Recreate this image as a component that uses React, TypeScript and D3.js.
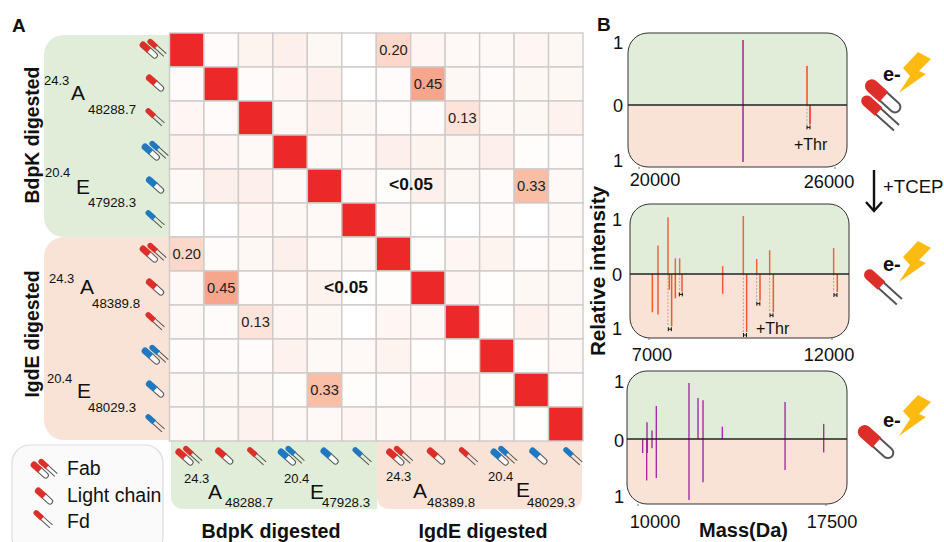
import { useEffect, useRef } from "react";
import * as d3 from "d3";

const FONT = "'Liberation Sans', Arial, sans-serif";

// similarity matrix
const similarity = [
  [1, 0.01, 0.03, 0.04, 0.02, 0, 0.2, 0.025, 0.015, 0.015, 0.025, 0.02],
  [0.01, 1, 0.01, 0.025, 0.04, 0, 0.01, 0.45, 0.02, 0.01, 0.02, 0.02],
  [0.025, 0.01, 1, 0.015, 0.04, 0.02, 0.01, 0.01, 0.13, 0.015, 0.02, 0.035],
  [0.035, 0.025, 0.015, 1, 0.015, 0.015, 0.04, 0.03, 0.02, 0.04, 0.005, 0.01],
  [0.015, 0.04, 0.04, 0.015, 1, 0.015, 0.005, 0.04, 0.02, 0.01, 0.33, 0.015],
  [0, 0, 0.025, 0.02, 0.015, 1, 0.015, 0, 0, 0.01, 0, 0.015],
  [0.2, 0.01, 0.02, 0.045, 0.015, 0.015, 1, 0.005, 0.025, 0.03, 0.01, 0.015],
  [0.015, 0.45, 0.01, 0.015, 0.035, 0, 0.005, 1, 0.025, 0.003, 0.02, 0.02],
  [0.015, 0.01, 0.13, 0.025, 0.02, 0, 0.025, 0.015, 1, 0.003, 0.035, 0.02],
  [0.01, 0.01, 0.01, 0.035, 0.015, 0.015, 0.03, 0.003, 0.003, 1, 0.003, 0.015],
  [0.02, 0.02, 0.02, 0.005, 0.33, 0.005, 0.01, 0.025, 0.035, 0.003, 1, 0.003],
  [0.015, 0.02, 0.035, 0.015, 0.015, 0.025, 0.015, 0.015, 0.015, 0.015, 0.003, 1],
];
const printedValues = [0.2, 0.45, 0.13, 0.33];
const chainKinds = ["fab", "lc", "fd", "fab", "lc", "fd"];

// spectra: [mass, intensity]
const s1Top = [[23184, 1], [25143, 0.6]];
const s1Bottom = [[23184, 1], [25235, 0.34]];
const s1Shifted = [[25143, 25235, 0.34]];
const s1Intact = 23184;

const s2Top = [[7246, 0.49], [7519, 0.98], [7719, 0.27], [7838, 0.27], [9013, 0.14], [9577, 1], [9942, 0.26], [10297, 0.41], [12045, 0.45]];
const s2Bottom = [[7091, 0.66], [7246, 0.7], [7555, 0.27], [7619, 0.9], [7719, 0.42], [7902, 0.3], [9013, 0.34], [9668, 1], [10033, 0.46], [10397, 0.66], [12145, 0.31]];
const s2Shifted = [[7519, 7619, 0.9], [7838, 7902, 0.3], [9577, 9668, 1], [9942, 10033, 0.46], [10297, 10397, 0.66], [12045, 12145, 0.31]];

const s3Top = [[10359, 0.3], [10559, 0.15], [10731, 0.59], [12035, 1], [12394, 0.73], [12594, 0.69], [13365, 0.22], [15867, 0.66], [17408, 0.27]];
const s3Bottom = [[10186, 0.23], [10346, 0.68], [10372, 0.23], [10559, 0.15], [10731, 0.64], [12035, 1], [12594, 0.71], [15867, 0.51], [17408, 0.22]];

const GREEN = "#e0edd8";
const PEACH = "#f8e3d6";
const RED = "#dc2f2a";
const BLUE = "#1f78c0";
const LINE = "#555";

/** 抗体小图标 */
function glyph(parent: any, kind: string, color: string, cx: number, cy: number, k = 1, flip = false) {
  const g = parent
    .append("g")
    .attr("transform", `translate(${cx},${cy}) rotate(42) scale(${k})`);
  const capsule = (dx: number, dy: number) => {
    const c = g.append("g").attr("transform", `translate(${dx},${dy})`);
    c.append("path")
      .attr("d", "M0,-2.7 H8 A2.7,2.7 0 0 1 8,2.7 H0")
      .attr("fill", "#fff")
      .attr("fill-opacity", 0.75)
      .attr("stroke", LINE)
      .attr("stroke-width", 1);
    c.append("path")
      .attr("d", "M0.5,-3.4 H-7.6 A3.4,3.4 0 0 0 -7.6,3.4 H0.5 Z")
      .attr("fill", color);
  };
  const thin = (dx: number, dy: number) => {
    const c = g.append("g").attr("transform", `translate(${dx},${dy})`);
    c.append("path")
      .attr("d", "M-1,-1.9 H12 M-1,1.9 H12")
      .attr("stroke", LINE)
      .attr("stroke-width", 1);
    c.append("path")
      .attr("d", "M0,-2.8 H-8 A2.8,2.8 0 0 0 -8,2.8 H0 Z")
      .attr("fill", color);
  };
  if (kind === "lc") capsule(0, 0);
  if (kind === "fd") thin(-1, 0);
  if (kind === "fab") {
    const s = flip ? -1 : 1;
    capsule(-2.5, 3.6 * s);
    thin(1, -3.6 * s);
  }
}

function label(parent: any, x: number, y: number, str: string, size: number, bold = false, anchor = "start") {
  return parent
    .append("text")
    .attr("x", x)
    .attr("y", y)
    .attr("font-size", size)
    .attr("font-weight", bold ? "bold" : "normal")
    .attr("text-anchor", anchor)
    .attr("fill", "#111")
    .text(str);
}

/** 24.3 A 48288.7 这种标签 */
function antibodyLabel(parent: any, t: string, tx: number, ty: number, name: string, nx: number, ny: number, m: string, mx: number, my: number) {
  label(parent, tx, ty, t, 13);
  label(parent, nx, ny, name, 21);
  label(parent, mx, my, m, 13.3);
}

/** 闪电 */
function bolt(parent: any, cx: number, cy: number, textDy: number) {
  const pts = [[3, -20], [16, -13], [4, -1], [11, 2], [-16, 21], [-5, 4], [-12, -4]];
  parent
    .append("polygon")
    .attr("points", pts.map((p) => [p[0] + cx, p[1] + cy].join(",")).join(" "))
    .attr("fill", "#fdbb12");
  label(parent, cx - 32, cy + textDy, "e-", 20, true);
}

function spectrum(svg: any, id: string, o: any) {
  const { left, right, top, bottom, zero, up, down, xDomain, xRange, xTicks, tickDx, tickY, yLabelX, yLabelY } = o;
  const x = d3.scaleLinear().domain(xDomain).range(xRange);
  const y = d3.scaleLinear().domain([-1, 0, 1]).range([down, zero, up]);

  svg.append("clipPath").attr("id", id)
    .append("rect")
    .attr("x", left).attr("y", top)
    .attr("width", right - left).attr("height", bottom - top)
    .attr("rx", 20);
  const bg = svg.append("g").attr("clip-path", `url(#${id})`);
  bg.append("rect").attr("x", left).attr("y", top).attr("width", right - left).attr("height", zero - top).attr("fill", GREEN);
  bg.append("rect").attr("x", left).attr("y", zero).attr("width", right - left).attr("height", bottom - zero).attr("fill", PEACH);

  // dashed partner lines for the +Thr pairs
  svg.selectAll(null).data(o.shifted || []).join("line")
    .attr("x1", (d: number[]) => x(d[0])).attr("x2", (d: number[]) => x(d[0]))
    .attr("y1", zero).attr("y2", (d: number[]) => y(-d[2]))
    .attr("stroke", "#aaa").attr("stroke-width", 1).attr("stroke-dasharray", "2,1.5");

  svg.selectAll(null).data(o.topPeaks).join("line")
    .attr("x1", (d: number[]) => x(d[0])).attr("x2", (d: number[]) => x(d[0]))
    .attr("y1", zero).attr("y2", (d: number[]) => y(d[1]))
    .attr("stroke", o.topColor).attr("stroke-width", o.barWidth);
  svg.selectAll(null).data(o.bottomPeaks).join("line")
    .attr("x1", (d: number[]) => x(d[0])).attr("x2", (d: number[]) => x(d[0]))
    .attr("y1", zero).attr("y2", (d: number[]) => y(-d[1]))
    .attr("stroke", o.bottomColor).attr("stroke-width", o.barWidth);

  // little H bracket under each pair
  svg.selectAll(null).data(o.shifted || []).join("path")
    .attr("d", (d: number[]) => {
      const mx = (x(d[0]) + x(d[1])) / 2;
      const my = y(-d[2]) + 3;
      return `M${mx - 1.5},${my - 2} V${my + 2} M${mx + 1.5},${my - 2} V${my + 2} M${mx - 1.5},${my} H${mx + 1.5}`;
    })
    .attr("stroke", "#111").attr("stroke-width", 1).attr("fill", "none");

  svg.append("rect")
    .attr("x", left).attr("y", top)
    .attr("width", right - left).attr("height", bottom - top)
    .attr("rx", 20).attr("fill", "none").attr("stroke", "#333").attr("stroke-width", 1);
  svg.append("line").attr("x1", left).attr("x2", right).attr("y1", zero).attr("y2", zero)
    .attr("stroke", "#222").attr("stroke-width", 1.3);

  xTicks.forEach((t: number, i: number) => {
    svg.append("line").attr("x1", x(t)).attr("x2", x(t)).attr("y1", bottom).attr("y2", bottom + 2)
      .attr("stroke", "#777").attr("stroke-width", 1);
    label(svg, x(t) + tickDx[i], tickY[i], String(t), 18.2, false, "middle");
  });
  ["1", "0", "1"].forEach((t, i) => label(svg, yLabelX, yLabelY[i], t, 18.2, false, "middle"));
}

const App = () => {
  const ref = useRef<SVGSVGElement>(null);

  useEffect(() => {
    const svg = d3.select(ref.current);
    svg.selectAll("*").remove();
    svg.style("font-family", FONT);

    const ids = d3.range(12);
    const xBand = d3.scaleBand<number>().domain(ids).range([169.5, 583]);
    const yBand = d3.scaleBand<number>().domain(ids).range([33, 441]);
    const color = d3
      .scaleLinear<string>()
      .domain([0, 0.04, 0.13, 0.2, 0.33, 0.45, 1])
      .range(["#ffffff", "#fdf0ea", "#fde3d9", "#fdd8ca", "#fabda6", "#f7a58d", "#ec2828"]);

    /** 左侧和底部的背景 */
    svg.append("path")
      .attr("d", "M169,35 H64 A20,20 0 0 0 44,55 V217 A20,20 0 0 0 64,237 H169 Z")
      .attr("fill", GREEN);
    svg.append("path")
      .attr("d", "M169,237 H64 A20,20 0 0 0 44,257 V420 A20,20 0 0 0 64,440 H169 Z")
      .attr("fill", PEACH);
    svg.append("path")
      .attr("d", "M171,441 H377 V509 H183 A12,12 0 0 1 171,497 Z")
      .attr("fill", GREEN);
    svg.append("path")
      .attr("d", "M377,441 H582 V497 A12,12 0 0 1 570,509 H389 A12,12 0 0 1 377,497 Z")
      .attr("fill", PEACH);

    /** 热图 */
    const cells = similarity.flatMap((row, r) => row.map((v, c) => ({ r, c, v })));
    svg.append("g")
      .selectAll("rect")
      .data(cells)
      .join("rect")
      .attr("x", (d) => xBand(d.c)!)
      .attr("y", (d) => yBand(d.r)!)
      .attr("width", xBand.bandwidth())
      .attr("height", yBand.bandwidth())
      .attr("fill", (d) => color(d.v))
      .attr("stroke", "#cfcbc9")
      .attr("stroke-width", 1.4);
    svg.append("g")
      .selectAll("text")
      .data(cells.filter((d) => printedValues.includes(d.v)))
      .join("text")
      .attr("x", (d) => xBand(d.c)! + xBand.bandwidth() / 2)
      .attr("y", (d) => yBand(d.r)! + yBand.bandwidth() / 2 + 5)
      .attr("text-anchor", "middle")
      .attr("font-size", 14.7)
      .attr("fill", "#222")
      .text((d) => d.v.toFixed(2));
    label(svg, 411, 190, "<0.05", 17.4, true, "middle");
    label(svg, 346, 293, "<0.05", 17.4, true, "middle");

    /** 行和列的图标 */
    const rowDx = [-17, -15, -15, -15, -15, -15, -17, -15, -15, -15, -15, -15];
    const colDx = [2, 3, 1, 1, 5, 3, 6, 8, 6, 7, 7, 7];
    ids.forEach((i) => {
      const kind = chainKinds[i % 6];
      const col = i % 6 < 3 ? RED : BLUE;
      glyph(svg, kind, col, 170 + rowDx[i], yBand(i)! + yBand.bandwidth() / 2 - 1);
      glyph(svg, kind, col, xBand(i)! + xBand.bandwidth() / 2 + colDx[i], 456);
    });

    /** 左侧标签 */
    antibodyLabel(svg, "24.3", 44, 85, "A", 71, 100, "48288.7", 88, 114);
    antibodyLabel(svg, "20.4", 45, 177, "E", 76, 194, "47928.3", 88, 207);
    antibodyLabel(svg, "24.3", 49, 283, "A", 80, 294, "48389.8", 92, 308);
    antibodyLabel(svg, "20.4", 47, 383, "E", 77, 398, "48029.3", 88, 412);
    antibodyLabel(svg, "24.3", 184, 483, "A", 208, 499, "48288.7", 225, 507);
    antibodyLabel(svg, "20.4", 284, 483, "E", 310, 499, "47928.3", 322, 507);
    antibodyLabel(svg, "24.3", 386, 481, "A", 413, 498, "48389.8", 427, 507);
    antibodyLabel(svg, "20.4", 488, 481, "E", 516, 497, "48029.3", 527, 507);

    label(svg, 0, 0, "BdpK digested", 19.4, true, "middle").attr("transform", "translate(38.5,135) rotate(-90)");
    label(svg, 0, 0, "IgdE digested", 19.4, true, "middle").attr("transform", "translate(38.5,334) rotate(-90)");
    label(svg, 271, 538, "BdpK digested", 19.7, true, "middle");
    label(svg, 483, 538, "IgdE digested", 19.7, true, "middle");
    label(svg, 12, 32, "A", 19, true);
    label(svg, 597, 31, "B", 19, true);

    /** 图例 */
    svg.append("rect")
      .attr("x", 12).attr("y", 445).attr("width", 151).attr("height", 110).attr("rx", 18)
      .attr("fill", "#fafafa").attr("stroke", "#ddd").attr("stroke-width", 1.2);
    glyph(svg, "fab", RED, 44, 469);
    glyph(svg, "lc", RED, 44, 496);
    glyph(svg, "fd", RED, 43, 519);
    label(svg, 67, 475, "Fab", 19.5);
    label(svg, 67, 502, "Light chain", 19.5);
    label(svg, 67, 528, "Fd", 19.5);

    /** 右侧质谱 */
    spectrum(svg, "s1", {
      left: 628, right: 847, top: 33, bottom: 167, zero: 105, up: 40, down: 162,
      xDomain: [20000, 26000], xRange: [639, 835], xTicks: [20000, 26000], tickDx: [16, -6], tickY: [186, 188],
      yLabelX: 618, yLabelY: [49, 112, 167],
      topPeaks: s1Top, bottomPeaks: s1Bottom, shifted: s1Shifted,
      topColor: (d: number[]) => (d[0] === s1Intact ? "#a9479f" : "#ea6a3a"),
      bottomColor: (d: number[]) => (d[0] === s1Intact ? "#a9479f" : "#f04545"),
      barWidth: 1.8,
    });
    spectrum(svg, "s2", {
      left: 630, right: 849, top: 204, bottom: 338, zero: 274, up: 216, down: 332,
      xDomain: [7000, 12000], xRange: [649, 832], xTicks: [7000, 12000], tickDx: [3, -3], tickY: [361, 361],
      yLabelX: 617, yLabelY: [226, 281, 335],
      topPeaks: s2Top, bottomPeaks: s2Bottom, shifted: s2Shifted,
      topColor: "#f0663c", bottomColor: "#f0582f", barWidth: 1.5,
    });
    spectrum(svg, "s3", {
      left: 627, right: 847, top: 371, bottom: 504, zero: 439, up: 383, down: 500,
      xDomain: [10000, 17500], xRange: [638, 826], xTicks: [10000, 17500], tickDx: [17, 6], tickY: [528, 528],
      yLabelX: 619, yLabelY: [388, 447, 503],
      topPeaks: s3Top, bottomPeaks: s3Bottom,
      topColor: "#a22ea2", bottomColor: "#a22ea2", barWidth: 1.4,
    });
    label(svg, 794, 150, "+Thr", 16);
    label(svg, 756, 334, "+Thr", 16);
    label(svg, 0, 0, "Relative intensity", 20.7, true, "middle").attr("transform", "translate(605,271) rotate(-90)");
    label(svg, 699, 537, "Mass(Da)", 20, true);

    /** TCEP 箭头 */
    svg.append("line").attr("x1", 874).attr("x2", 874).attr("y1", 170).attr("y2", 209)
      .attr("stroke", "#111").attr("stroke-width", 2.4);
    svg.append("path").attr("d", "M866,202 L874,211 L882,202")
      .attr("fill", "none").attr("stroke", "#111").attr("stroke-width", 2.4);
    label(svg, 883, 193, "+TCEP", 18.6);

    glyph(svg, "fab", RED, 882, 105, 2, true);
    glyph(svg, "fd", RED, 883, 287, 2);
    glyph(svg, "lc", RED, 876, 442, 2);
    bolt(svg, 915, 72, 9);
    bolt(svg, 915, 261, 10);
    bolt(svg, 915, 415, 12);
  }, []);

  return (
    <svg
      ref={ref}
      width={944}
      height={542}
      style={{ position: "absolute", left: 0, top: 0, display: "block", background: "#fff" }}
    />
  );
};

export default App;
